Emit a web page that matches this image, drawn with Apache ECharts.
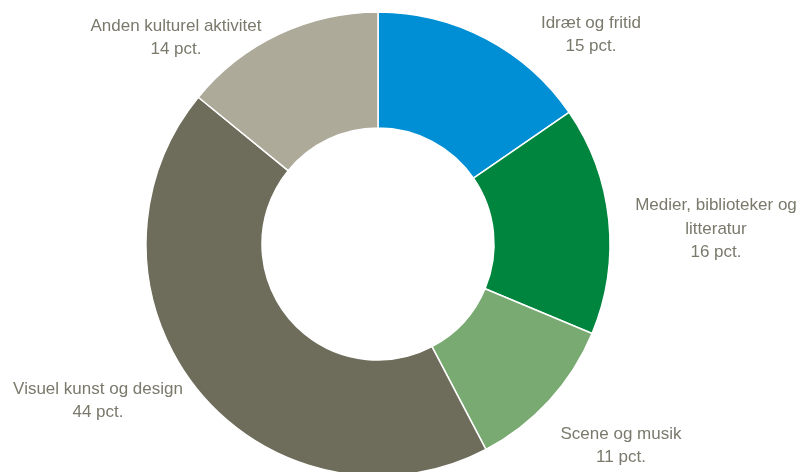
<!DOCTYPE html>
<html>
<head>
<meta charset="utf-8">
<script src="https://cdn.jsdelivr.net/npm/echarts@6/dist/echarts.min.js"></script>
<style>
  html, body { margin: 0; padding: 0; background: #fff; }
  #chart { width: 802px; height: 472px; }
</style>
</head>
<body>
<div id="chart"></div>
<script>
const categories = ['Idræt og fritid', 'Medier, biblioteker og\nlitteratur', 'Scene og musik', 'Visuel kunst og design', 'Anden kulturel aktivitet'];
// shares as drawn (the labels show them rounded)
const values = [15.4, 15.9, 11.0, 43.6, 14.1];
const colors = ['#008fd5', '#00853e', '#78aa71', '#6e6c5a', '#adaa9a'];
// label centres (text placement only)
const labelPos = [[591, 35], [716, 229], [621, 446], [98, 401], [176, 38]];

const chart = echarts.init(document.getElementById('chart'));
const option = {
  animation: false,
  series: [{
    type: 'pie',
    center: [378, 244],
    radius: [116, 232],
    startAngle: 90,
    clockwise: true,
    itemStyle: {
      borderColor: '#fff',
      borderWidth: 1.5
    },
    label: {
      show: true,
      position: 'outside',
      formatter: p => p.name + '\n' + Math.round(p.value) + ' pct.',
      fontFamily: '"Liberation Sans Narrow", "Arial Narrow", "Liberation Sans", sans-serif',
      fontSize: 17,
      lineHeight: 23.5,
      color: '#7a796c',
      align: 'center',
      overflow: 'none'
    },
    labelLine: { show: false },
    labelLayout: p => ({
      x: labelPos[p.dataIndex][0],
      y: labelPos[p.dataIndex][1],
      align: 'center',
      verticalAlign: 'middle'
    }),
    emphasis: { disabled: true },
    data: categories.map((c, i) => ({
      name: c,
      value: values[i],
      itemStyle: { color: colors[i] }
    }))
  }]
};
chart.setOption(option);
</script>
</body>
</html>
